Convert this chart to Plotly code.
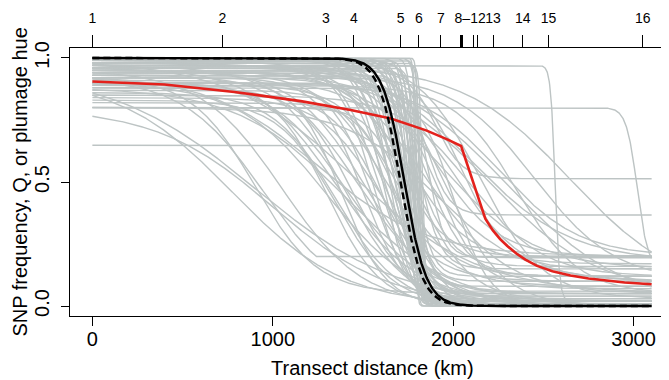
import numpy as np
import plotly.graph_objects as go

# ---------------- data ----------------
# top axis: sampling sites and their transect positions (km)
site_pos = [0, 721, 1295, 1450, 1709, 1810, 1932, 2042, 2047, 2052, 2115, 2137, 2221, 2386, 2528, 3051]
site_lab = ["1", "2", "3", "4", "5", "6", "7", "", "", "", "", "", "13", "14", "15", "16"]
group_pos = [2094]
group_lab = ["8–12"]

# grey per-SNP clines: centre (km), width (km), left value, right value, floor
cl_center = [1790, 1800, 1810, 1820, 1830, 1785, 1775, 1765, 1755, 1745, 1735, 1725, 1715, 1705, 1695,
             1685, 1675, 1660, 1645, 1630, 1740, 1760, 1770, 1795, 1805, 1815, 1790, 1720, 1700, 1750,
             1780, 1650, 1610, 1590, 1800,
             1500, 1450, 1550, 1600, 1400, 1350, 1650, 1700, 1520, 1400, 1350, 1750, 1620, 1480, 1380,
             1580, 1350, 1680, 1720, 1560,
             1000, 1050, 900, 1300, 1250, 950, 1400, 1300, 1450, 775, 900,
             1900, 1850, 1850, 1800, 2565, 3020, 2350, 2650, 2450, 2200, 2100, 2000, 1950, 2100,
             1900, 2250, 1850, 1900, 1950, 2050, 1800, 1850, 2150, 2300, 1750, 2000, 1900, 1700,
             1790]
cl_width = [20, 30, 25, 40, 35, 60, 80, 100, 120, 150, 180, 200, 220, 250, 280,
            300, 260, 320, 350, 380, 90, 70, 140, 110, 80, 60, 160, 130, 170, 230,
            200, 240, 300, 420, 250,
            500, 600, 450, 550, 700, 650, 500, 450, 800, 800, 700, 400, 700, 900, 500,
            650, 900, 600, 350, 380,
            1300, 900, 700, 1000, 1200, 900, 1200, 600, 1400, 1250, 1600,
            300, 250, 200, 400, 50, 120, 700, 1200, 900, 1200, 800, 800, 1000, 1100,
            700, 900, 900, 500, 650, 500, 600, 450, 700, 1300, 700, 400, 1000, 500,
            30]
cl_left = [1.0, 0.99, 1.0, 0.98, 0.97, 1.0, 0.99, 1.0, 0.98, 1.0, 0.99, 0.97, 1.0, 0.98, 1.0,
           0.96, 0.99, 0.97, 1.0, 0.95, 0.93, 0.95, 0.99, 0.98, 0.96, 1.0, 0.97, 0.99, 0.94, 1.0,
           0.96, 0.98, 0.99, 0.97, 1.0,
           0.92, 0.88, 0.90, 0.85, 0.93, 0.83, 0.87, 0.82, 0.95, 0.90, 0.86, 0.80, 0.94, 0.97, 0.91,
           0.84, 0.96, 0.89, 0.90, 0.96,
           0.80, 0.95, 0.92, 0.90, 0.93, 0.92, 0.88, 0.90, 0.99, 0.92, 0.95,
           0.95, 0.92, 0.99, 0.90, 0.97, 0.80, 0.89, 0.97, 0.93, 0.95, 0.85, 0.97, 0.95, 0.99,
           0.96, 0.90, 0.98, 0.93, 1.0, 0.94, 0.90, 0.96, 1.0, 0.98, 0.95, 0.88, 0.80, 0.92,
           0.648]
cl_right = [0.0, 0.01, 0.02, 0.0, 0.01, 0.0, 0.0, 0.02, 0.0, 0.01, 0.0, 0.03, 0.0, 0.02, 0.05,
            0.0, 0.02, 0.0, 0.04, 0.0, 0.0, 0.03, 0.06, 0.0, 0.0, 0.04, 0.08, 0.0, 0.01, 0.10,
            0.12, 0.0, 0.0, 0.0, 0.15,
            0.0, 0.02, 0.0, 0.05, 0.0, 0.0, 0.0, 0.03, 0.0, 0.05, 0.0, 0.0, 0.08, 0.0, 0.0,
            0.10, 0.02, 0.12, 0.0, 0.0,
            0.0, 0.0, 0.05, 0.0, 0.20, 0.0, 0.0, 0.0, 0.05, 0.0, 0.0,
            0.513, 0.367, 0.195, 0.16, 0.02, 0.15, 0.05, 0.05, 0.10, 0.05, 0.12, 0.10, 0.15, 0.18,
            0.20, 0.20, 0.05, 0.07, 0.0, 0.15, 0.02, 0.12, 0.03, 0.0, 0.17, 0.0, 0.10, 0.20,
            0.0]
cl_floor = [None] * len(cl_center)
cl_floor[60] = 0.20

# mean cline (solid), expected cline (dashed)
solid_center, solid_width = 1730, 240
dash_center, dash_width = 1708, 240

# plumage hue cline (red)
red_x = [0, 400, 787, 1155, 1432, 1654, 1850, 1967, 2044, 2178, 2220, 2260, 2300, 2350, 2400,
         2465, 2550, 2650, 2750, 2850, 2950, 3100]
red_y = [0.905, 0.893, 0.863, 0.826, 0.790, 0.756, 0.708, 0.672, 0.645, 0.352, 0.305, 0.270, 0.242,
         0.212, 0.187, 0.162, 0.140, 0.123, 0.111, 0.102, 0.095, 0.088]

x_ticks = [0, 1000, 2000, 3000]
y_ticks = [0.0, 0.5, 1.0]
y_ticklab = ["0.0", "0.5", "1.0"]

# ---------------- build ----------------
xs = np.linspace(0, 3100, 1241)


def cline(c, w, a, b):
    return b + (a - b) / (1.0 + np.exp(4.0 * (xs - c) / w))


gx, gy = [], []
for c, w, a, b, f in zip(cl_center, cl_width, cl_left, cl_right, cl_floor):
    y = cline(c, w, a, b)
    if f is not None:
        y = np.maximum(y, f)
    gx.extend(xs.tolist() + [None])
    gy.extend(y.tolist() + [None])

FONT = "Liberation Sans, Arial, Helvetica, sans-serif"

fig = go.Figure()
fig.add_trace(go.Scatter(x=gx, y=gy, mode="lines", line=dict(color="#BDC4C4", width=1.4),
                         hoverinfo="skip", showlegend=False))
fig.add_trace(go.Scatter(x=red_x, y=red_y, mode="lines", line=dict(color="#E3211C", width=2.6),
                         showlegend=False))
fig.add_trace(go.Scatter(x=xs, y=cline(dash_center, dash_width, 1.0, 0.0), mode="lines",
                         line=dict(color="black", width=2.4, dash="7px,4px"), showlegend=False))
fig.add_trace(go.Scatter(x=xs, y=cline(solid_center, solid_width, 1.0, 0.0), mode="lines",
                         line=dict(color="black", width=2.4), showlegend=False))
# invisible traces to activate top axes
fig.add_trace(go.Scatter(x=[0], y=[0], xaxis="x2", mode="markers", marker=dict(opacity=0),
                         showlegend=False, hoverinfo="skip"))
fig.add_trace(go.Scatter(x=[0], y=[0], xaxis="x3", mode="markers", marker=dict(opacity=0),
                         showlegend=False, hoverinfo="skip"))

xr = [-124, 3224]
fig.update_layout(
    width=669, height=380,
    margin=dict(l=62, r=2, t=36, b=72),
    paper_bgcolor="white", plot_bgcolor="white",
    font=dict(family=FONT, color="black", size=20),
    xaxis=dict(range=xr, tickvals=x_ticks, ticks="outside", ticklen=9, tickwidth=1.2,
               tickcolor="black", showline=True, linecolor="black", linewidth=1.4, mirror=True,
               showgrid=False, zeroline=False, tickfont=dict(size=20), ticklabelstandoff=-4),
    xaxis2=dict(range=xr, overlaying="x", side="top", anchor="y", tickvals=site_pos,
                ticktext=site_lab, ticks="outside", ticklen=12, tickwidth=1.2, tickcolor="black",
                showline=False, showgrid=False, zeroline=False, tickfont=dict(size=14),
                ticklabelstandoff=6),
    xaxis3=dict(range=xr, overlaying="x", side="top", anchor="y", tickvals=group_pos,
                ticktext=group_lab, ticks="outside", ticklen=12, tickcolor="rgba(0,0,0,0)",
                showline=False, showgrid=False, zeroline=False, tickfont=dict(size=14),
                ticklabelstandoff=6),
    yaxis=dict(range=[-0.04, 1.04], tickvals=y_ticks, ticktext=y_ticklab, tickangle=-90,
               ticks="outside", ticklen=8, tickwidth=1.2, tickcolor="black", showline=True,
               linecolor="black", linewidth=1.4, mirror=True, showgrid=False, zeroline=False,
               tickfont=dict(size=20), ticklabelstandoff=4),
    annotations=[
        dict(text="Transect distance (km)", xref="paper", yref="paper", x=0.5, y=-0.193,
             xanchor="center", yanchor="middle", showarrow=False, font=dict(size=20)),
        dict(text="SNP frequency, Q, or plumage hue", xref="paper", yref="paper",
             x=-0.0835, y=0.5, textangle=-90, xanchor="center", yanchor="middle",
             showarrow=False, font=dict(size=20)),
    ],
)

fig.write_html("out.html")
